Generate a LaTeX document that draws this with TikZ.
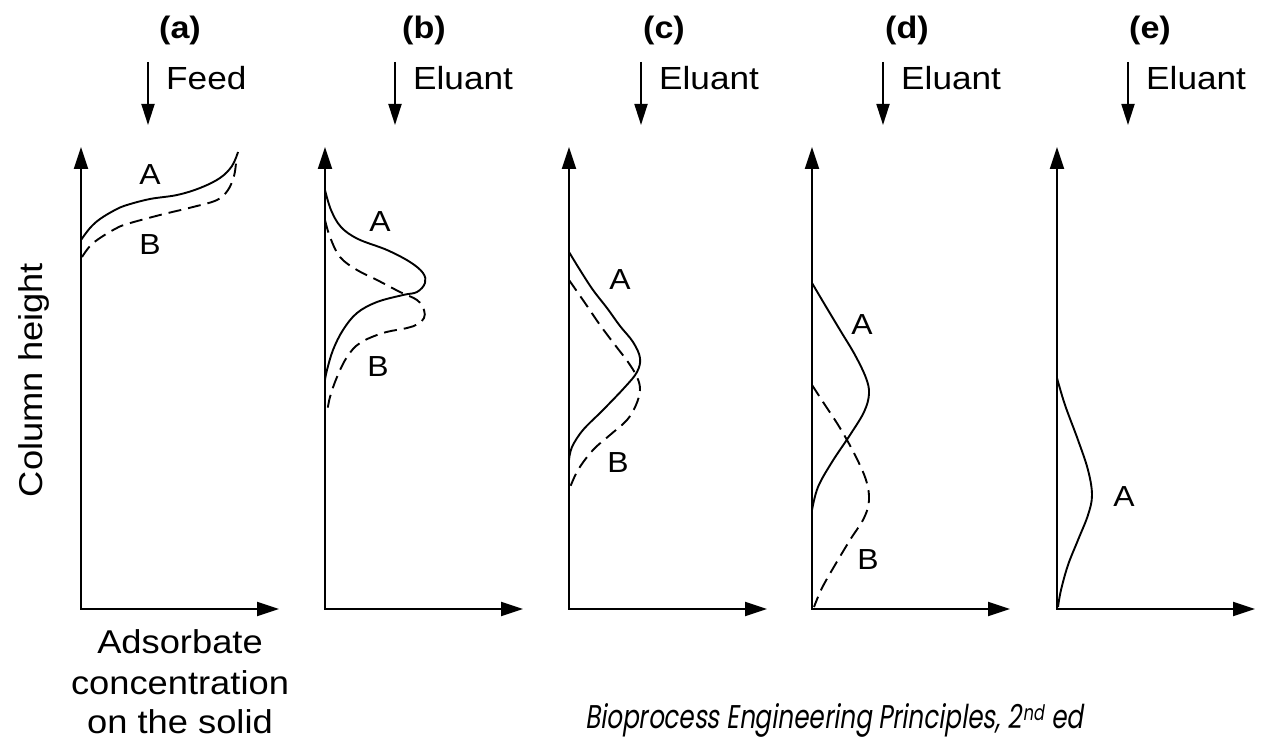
\documentclass[tikz,border=0pt]{standalone}
\usepackage{graphicx}
\usepackage{fontspec}
\setmainfont{Liberation Sans}[FakeStretch=1.1]
\newfontfamily\capfont{Poppins}[FakeSlant=0.2]
\usetikzlibrary{arrows.meta}
\begin{document}
\begin{tikzpicture}[x=1pt,y=-1pt,
  axis/.style={line width=2pt,{Triangle[length=22pt,width=14pt]}-{Triangle[length=22pt,width=14pt]}},
  flow/.style={line width=1.8pt,-{Triangle[length=21pt,width=13pt]}},
  curveA/.style={line width=1.9pt},
  curveB/.style={line width=1.9pt,dash pattern=on 13pt off 7pt},
  lbl/.style={font=\fontsize{32}{38}\selectfont,inner sep=0pt},
  lblb/.style={font=\fontsize{33}{39}\selectfont,inner sep=0pt},
  ab/.style={font=\fontsize{29}{34}\selectfont,inner sep=0pt},
  ttl/.style={font=\bfseries\fontsize{31}{37}\selectfont,inner sep=0pt}]
\useasboundingbox (0,0) rectangle (1262,743);

% axes, titles, inlet arrows
\foreach \xo/\tx/\ax/\tl/\nm in {81/180/148/a/Feed, 325/424/395/b/Eluant, 569/664/641/c/Eluant, 812/907/883/d/Eluant, 1057/1150/1128/e/Eluant}{
  \coordinate (y\tl) at (\xo,147);
  \coordinate (o\tl) at (\xo,609);
  \coordinate (x\tl) at (\xo+198,609);
  \draw[axis] (y\tl) -- (o\tl) -- (x\tl);
  \node[ttl] (t\tl) at (\tx,30) {(\tl)};
  \coordinate (f\tl1) at (\ax,62);
  \coordinate (f\tl2) at (\ax,125);
  \draw[flow] (f\tl1) -- (f\tl2);
  \node[lbl,anchor=base west] (n\tl) at (\ax+18,90) {\nm};
}

% (a)
\draw[curveA] plot[smooth,tension=0.6] coordinates {(81,240) (90,228) (100,219) (115,210) (127,205) (150,199) (177,195) (200,188) (220,178) (232,166) (238,152)};
\draw[curveB] plot[smooth,tension=0.6] coordinates {(82,257) (90,246) (100,238) (115,229) (127,224) (160,215) (193,207) (217,200) (228,190) (234,176) (236,163)};
\node[ab] (Aa) at (150,175) {A};
\node[ab] (Ba) at (150,245) {B};

% (b)
\draw[curveA] plot[smooth,tension=0.6] coordinates {(325,190) (331,210) (341,227) (358,239) (387,250) (410,262) (423,273) (425,283) (417,292) (403,295) (377,302) (357,313) (343,330) (333,350) (327,370) (325,380)};
\draw[curveB] plot[smooth,tension=0.6] coordinates {(325,220) (330,237) (340,257) (357,270) (377,280) (400,292) (417,300) (424,310) (424,318) (418,324) (407,328) (383,333) (360,343) (347,357) (337,377) (330,397) (327,413)};
\node[ab] (Ab) at (380,222) {A};
\node[ab] (Bb) at (378,367) {B};

% (c)
\draw[curveA] plot[smooth,tension=0.6] coordinates {(569,252) (580,270) (593,290) (607,308) (620,326) (633,342) (640,358) (637,372) (625,387) (603,410) (583,430) (572,447) (569,460)};
\draw[curveB] plot[smooth,tension=0.6] coordinates {(569,280) (585,303) (600,325) (615,345) (628,362) (637,377) (640,390) (636,405) (627,420) (610,435) (593,450) (578,470) (569,490)};
\node[ab] (Ac) at (620,280) {A};
\node[ab] (Bc) at (618,463) {B};

% (d)
\draw[curveA] plot[smooth,tension=0.6] coordinates {(812,283) (825,305) (840,330) (855,355) (866,378) (869,394) (864,412) (850,435) (832,462) (818,487) (812,510)};
\draw[curveB] plot[smooth,tension=0.6] coordinates {(812,385) (825,405) (840,428) (855,455) (866,480) (869,500) (864,518) (850,540) (835,565) (822,588) (814,607)};
\node[ab] (Ad) at (862,325) {A};
\node[ab] (Bd) at (868,560) {B};

% (e)
\draw[curveA] plot[smooth,tension=0.6] coordinates {(1057,378) (1065,405) (1078,440) (1088,470) (1092,495) (1088,515) (1078,540) (1068,565) (1061,590) (1058,607)};
\node[ab] (Ae) at (1124,497) {A};

% axis labels
\node[lblb,rotate=90,anchor=base] (ch) at (42,380) {Column height};
\node[lblb,anchor=base] (bt1) at (180,653) {Adsorbate};
\node[lblb,anchor=base] (bt2) at (180,694) {concentration};
\node[lblb,anchor=base] (bt3) at (180,733) {on the solid};

% caption
\node[anchor=base west,inner sep=0pt] (cap) at (585,728) {\resizebox{498pt}{25pt}{\capfont Bioprocess Engineering Principles, 2\kern0.6pt\raisebox{2.3pt}{\fontsize{6.5}{7}\selectfont nd}\hspace{0.3em}ed}};
\end{tikzpicture}
\end{document}
